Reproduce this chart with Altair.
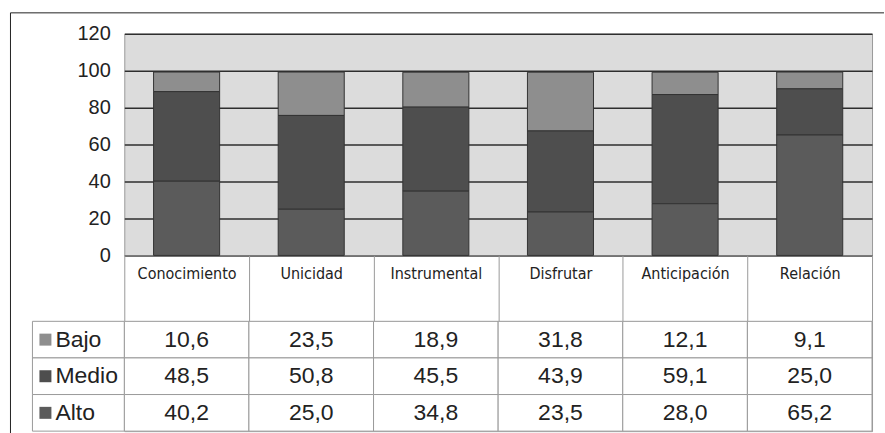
import altair as alt
import pandas as pd

categories = ["Conocimiento", "Unicidad", "Instrumental", "Disfrutar", "Anticipación", "Relación"]
series = ["Bajo", "Medio", "Alto"]
bajo = [10.6, 23.5, 18.9, 31.8, 12.1, 9.1]
medio = [48.5, 50.8, 45.5, 43.9, 59.1, 25.0]
alto = [40.2, 25.0, 34.8, 23.5, 28.0, 65.2]
y_ticks = [0, 20, 40, 60, 80, 100, 120]
colors = ["#8e8e8e", "#4e4e4e", "#5b5b5b"]
stack_rank = {"Alto": 0, "Medio": 1, "Bajo": 2}

rows = []
for s, vals in zip(series, [bajo, medio, alto]):
    for c, v in zip(categories, vals):
        rows.append({"categoria": c, "nivel": s, "valor": v, "orden": stack_rank[s]})
df = pd.DataFrame(rows)
levels_df = pd.DataFrame({"nivel": series})
one = pd.DataFrame({"k": [0]})

W = 749
H_TOP = 222
H_TAB = 110
NARROW = "Liberation Sans Narrow, DejaVu Sans Condensed, Arial Narrow, sans-serif"
SANS = "Liberation Sans, Arial, sans-serif"
GRID = "#9a9a9a"

color_scale = alt.Scale(domain=series, range=colors)

x_top = alt.X(
    "categoria:N", sort=categories,
    scale=alt.Scale(paddingInner=0, paddingOuter=0),
    axis=alt.Axis(title=None, orient="bottom", tickBand="extent", tickSize=66,
                  tickColor=GRID, tickWidth=1, domainColor=GRID, labelAngle=0,
                  labelFont=NARROW, labelFontSize=16, labelColor="#222",
                  labelPadding=-56, labelBaseline="top"),
)
y_top = alt.Y(
    "valor:Q", stack="zero",
    scale=alt.Scale(domain=[0, 120], nice=False),
    axis=alt.Axis(values=y_ticks, title=None, grid=True, gridColor="#2e2e2e",
                  gridWidth=1.5, domain=False, ticks=False, labelPadding=14,
                  labelFont=SANS, labelFontSize=20, labelColor="#222"),
)

bars = alt.Chart(df).mark_bar(
    width=alt.RelativeBandSize(0.53), stroke="#333333", strokeWidth=1
).encode(
    x=x_top, y=y_top,
    color=alt.Color("nivel:N", scale=color_scale, legend=None),
    order=alt.Order("orden:Q", sort="ascending"),
)

frame_top = alt.Chart(one).mark_rule(color="#222", strokeWidth=1).encode(
    x=alt.value(-114), x2=alt.value(761), y=alt.value(-21))
frame_left = alt.Chart(one).mark_rule(color="#222", strokeWidth=1).encode(
    x=alt.value(-114), y=alt.value(-21), y2=alt.value(400))

top = alt.layer(bars, frame_top, frame_left).properties(width=W, height=H_TOP)

xb = alt.X("categoria:N", sort=categories,
           scale=alt.Scale(paddingInner=0, paddingOuter=0), axis=None)
yb = alt.Y("nivel:N", sort=series,
           scale=alt.Scale(paddingInner=0, paddingOuter=0), axis=None)

cells = alt.Chart(df).mark_rect(fill="white", stroke=GRID, strokeWidth=1).encode(x=xb, y=yb)
vals = alt.Chart(df).transform_calculate(
    txt="replace(format(datum.valor, '.1f'), '.', ',')"
).mark_text(font=SANS, fontSize=23, color="#222").encode(x=xb, y=yb, text="txt:N")

label_cells = alt.Chart(levels_df).mark_rect(fill="white", stroke=GRID, strokeWidth=1).encode(
    x=alt.value(-92), x2=alt.value(0), y=yb)
squares = alt.Chart(levels_df).mark_square(size=144, opacity=1).encode(
    x=alt.value(-79), y=yb,
    color=alt.Color("nivel:N", scale=color_scale, legend=None))
labels = alt.Chart(levels_df).mark_text(align="left", font=SANS, fontSize=23, color="#222").encode(
    x=alt.value(-69), y=yb, text="nivel:N")

bottom = alt.layer(cells, vals, label_cells, squares, labels).properties(width=W, height=H_TAB)

chart = alt.vconcat(top, bottom, spacing=66, bounds="flush").properties(
    padding={"left": 9.5, "top": 11.5, "right": 0, "bottom": 0},
    background="white",
).configure_view(fill="#dcdcdc", stroke=GRID)

chart.save("out.html", embed_options={"renderer": "svg", "actions": False})
